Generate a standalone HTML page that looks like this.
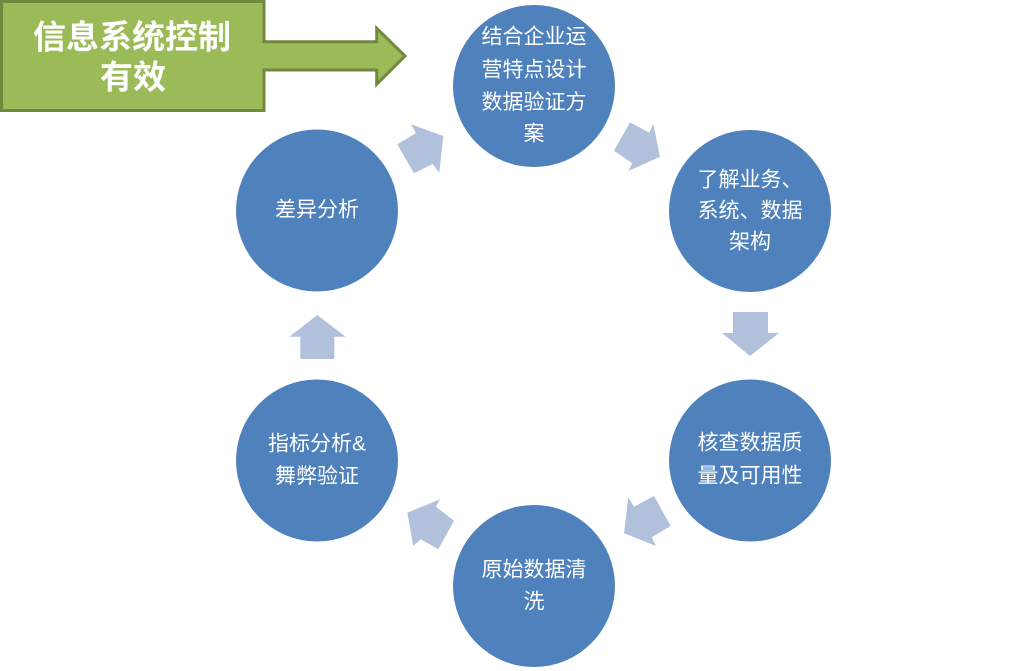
<!DOCTYPE html>
<html>
<head>
<meta charset="utf-8">
<style>
  html, body { margin:0; padding:0; background:#ffffff; }
  body { width:1034px; height:671px; overflow:hidden; }
  svg { display:block; }
  .c { fill:#4F81BD; }
  .a { fill:#B1C1DC; }
  .t { font-family:"Liberation Sans","Noto Sans CJK SC","WenQuanYi Zen Hei",sans-serif; font-size:21px; fill:#ffffff; text-anchor:middle; dominant-baseline:central; }
  .g { font-family:"Liberation Sans","Noto Sans CJK SC","WenQuanYi Zen Hei",sans-serif; font-size:33px; font-weight:bold; fill:#ffffff; text-anchor:middle; dominant-baseline:central; }
</style>
</head>
<body>
<svg width="1034" height="671" viewBox="0 0 1034 671" xmlns="http://www.w3.org/2000/svg">
  <!-- green box + arrow -->
  <path d="M1.5,1.5 H264 V41.7 H376.7 V28.3 L405,56 L376.7,84.3 V70 H264 V110.5 H1.5 Z"
        fill="#9BBB59" stroke="#71893F" stroke-width="3" stroke-linejoin="miter"/>
  <text class="g" x="132" y="37">信息系统控制</text>
  <text class="g" x="133" y="77">有效</text>

  <!-- circles -->
  <circle class="c" cx="534" cy="86" r="81"/>
  <circle class="c" cx="750" cy="211" r="81"/>
  <circle class="c" cx="750" cy="460.5" r="81"/>
  <circle class="c" cx="534" cy="586" r="81"/>
  <circle class="c" cx="317" cy="460.5" r="81"/>
  <circle class="c" cx="317" cy="210.5" r="81"/>

  <!-- connector arrows -->
  <polygon class="a" points="630,122.3 649.3,132.7 653.3,124 660,156.7 628.3,171 632.3,163.3 614,150.7"/>
  <polygon class="a" points="733,312 768,312 768,333 779,333 750,356 722,333 733,333"/>
  <polygon class="a" points="628.3,497.3 634,506.7 654,496 670.7,526 651.7,537.3 656,546 624,533.3"/>
  <polygon class="a" points="407.3,512.7 440,499.3 436,506.7 454,520.7 438.3,549.3 420.7,539.3 413.3,546"/>
  <polygon class="a" points="317.3,315 345.7,336.7 334.3,336.7 334.3,359 300.3,359 300.3,336.7 289.3,336.7"/>
  <polygon class="a" points="411,124.3 443.3,136 439.3,172.7 432.7,164 414,173.3 397.3,144.3 416,133.3"/>

  <!-- labels -->
  <text class="t" x="534" y="37">结合企业运</text>
  <text class="t" x="534" y="70">营特点设计</text>
  <text class="t" x="534" y="102.5">数据验证方</text>
  <text class="t" x="534" y="134">案</text>

  <text class="t" x="750" y="180">了解业务、</text>
  <text class="t" x="750" y="211">系统、数据</text>
  <text class="t" x="750" y="242">架构</text>

  <text class="t" x="750" y="443">核查数据质</text>
  <text class="t" x="750" y="476">量及可用性</text>

  <text class="t" x="534" y="570">原始数据清</text>
  <text class="t" x="534" y="602">洗</text>

  <text class="t" x="317" y="444">指标分析&amp;</text>
  <text class="t" x="317" y="476.5">舞弊验证</text>

  <text class="t" x="317" y="210">差异分析</text>
</svg>
</body>
</html>
